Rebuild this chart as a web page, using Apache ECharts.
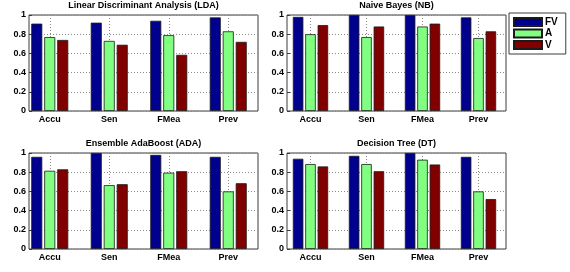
<!DOCTYPE html>
<html><head><meta charset="utf-8">
<script src="https://cdn.jsdelivr.net/npm/echarts@6/dist/echarts.min.js"></script>
<style>html,body{margin:0;padding:0;background:#fff}#c{width:570px;height:272px}</style>
</head><body><div id="c"></div>
<script>
const categories = ['Accu', 'Sen', 'FMea', 'Prev'];
const seriesNames = ['FV', 'A', 'V'];
const titles = ['Linear Discriminant Analysis (LDA)', 'Naive Bayes (NB)', 'Ensemble AdaBoost (ADA)', 'Decision Tree (DT)'];
const yTickValues = [0, 0.2, 0.4, 0.6, 0.8, 1];

const ldaFV = [0.91, 0.92, 0.94, 0.975];
const ldaA  = [0.77, 0.73, 0.79, 0.83];
const ldaV  = [0.74, 0.69, 0.585, 0.72];

const nbFV = [0.98, 1.0, 1.0, 0.975];
const nbA  = [0.80, 0.77, 0.88, 0.76];
const nbV  = [0.895, 0.88, 0.91, 0.83];

const adaFV = [0.96, 1.0, 0.98, 0.96];
const adaA  = [0.815, 0.665, 0.795, 0.60];
const adaV  = [0.83, 0.675, 0.81, 0.685];

const dtFV = [0.94, 0.97, 1.0, 0.96];
const dtA  = [0.885, 0.885, 0.93, 0.60];
const dtV  = [0.86, 0.81, 0.88, 0.52];

const panelData = [[ldaFV, ldaA, ldaV], [nbFV, nbA, nbV], [adaFV, adaA, adaV], [dtFV, dtA, dtV]];

// layout (pixels)
const colors = ['#00008f', '#80ff80', '#800000'];
const FONT = 'Liberation Sans, Arial, sans-serif';
const frames = [
  {left: 29, top: 15, width: 229, height: 96, barLeft: 20, barWidthTot: 238, bw: 11},
  {left: 287, top: 15, width: 219, height: 96, barLeft: 282.5, barWidthTot: 224, bw: 10.5},
  {left: 29, top: 153, width: 229, height: 96, barLeft: 20, barWidthTot: 238, bw: 11},
  {left: 287, top: 153, width: 219, height: 96, barLeft: 282.5, barWidthTot: 224, bw: 10.5}
];

const grid = [], xAxis = [], yAxis = [], series = [], title = [];
frames.forEach((f, i) => {
  grid.push({left: f.left, top: f.top, width: f.width, height: f.height, show: true,
    borderColor: '#3c3c3c', borderWidth: 1, backgroundColor: '#fff', containLabel: false});
  grid.push({left: f.barLeft, top: f.top, width: f.barWidthTot, height: f.height, show: false, containLabel: false});
  const gA = 2 * i, gB = 2 * i + 1;
  xAxis.push({gridIndex: gA, type: 'value', min: 0, max: 1, show: false});
  xAxis.push({gridIndex: gB, type: 'category', data: categories,
    axisLine: {show: false},
    axisTick: {show: true, inside: true, alignWithLabel: true, length: 3, lineStyle: {color: '#3c3c3c'}},
    splitLine: {show: true, alignWithLabel: true, lineStyle: {color: '#8a8a8a', type: [1, 2], width: 1}},
    axisLabel: {margin: 4, color: '#000', fontWeight: 'bold', fontSize: 9, fontFamily: FONT}
  });
  yAxis.push({gridIndex: gA, type: 'value', min: 0, max: 1, interval: 0.2,
    axisLine: {show: false},
    axisTick: {show: true, inside: true, length: 3, lineStyle: {color: '#3c3c3c'}},
    splitLine: {show: true, lineStyle: {color: '#8a8a8a', type: [1, 2], width: 1}},
    axisLabel: {margin: 3, color: '#000', fontWeight: 'bold', fontSize: 9, fontFamily: FONT,
      formatter: v => String(Math.round(v * 10) / 10)}
  });
  yAxis.push({gridIndex: gB, type: 'value', min: 0, max: 1, show: false});
  panelData[i].forEach((arr, k) => {
    series.push({type: 'bar', name: seriesNames[k], xAxisIndex: gB, yAxisIndex: gB,
      data: arr, barWidth: f.bw, barGap: '18%',
      itemStyle: {color: colors[k], borderColor: '#1a1a1a', borderWidth: 0.8},
      emphasis: {disabled: true}, animation: false});
  });
  title.push({text: titles[i], left: f.left + f.width / 2, top: f.top - 14, textAlign: 'center', padding: 0,
    textStyle: {fontSize: 9, fontWeight: 'bold', fontFamily: FONT, color: '#000'}});
});

const chart = echarts.init(document.getElementById('c'), null, {renderer: 'canvas'});
chart.setOption({
  animation: false,
  title: title,
  grid: grid, xAxis: xAxis, yAxis: yAxis, series: series,
  legend: {data: seriesNames, orient: 'vertical', left: 509, top: 13, icon: 'rect',
    itemWidth: 28, itemHeight: 8, itemGap: 1.5, padding: [4, 8, 4, 4],
    borderColor: '#3c3c3c', borderWidth: 1, backgroundColor: '#fff',
    textStyle: {fontSize: 10, fontWeight: 'bold', fontFamily: FONT, color: '#000', padding: [0, 0, 0, -2], lineHeight: 9}}
});
</script></body></html>
